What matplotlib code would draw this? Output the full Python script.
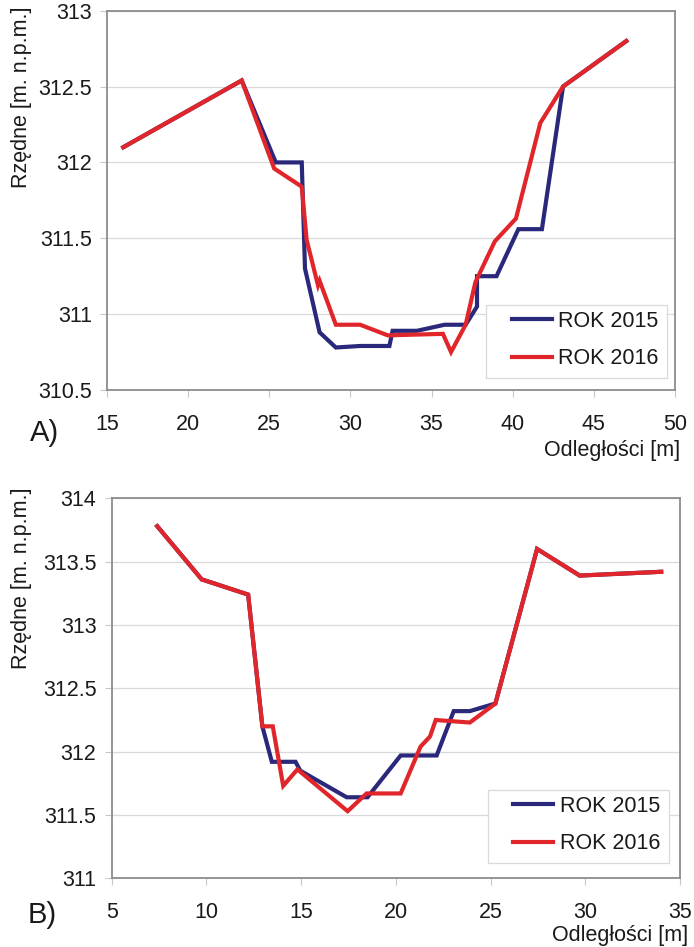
import matplotlib
matplotlib.use("Agg")
import matplotlib.pyplot as plt
from matplotlib.patches import Rectangle

plt.rcParams['font.family'] = ['Liberation Sans', 'DejaVu Sans']

# panel A
a_x_2015 = [16.0, 23.3, 25.4, 27.0, 27.2, 28.1, 29.1, 30.6, 32.4, 32.6, 34.1, 35.8, 37.1, 37.8, 37.8, 39.0, 40.35, 41.8, 43.1, 47.0]
a_y_2015 = [312.1, 312.54, 312.0, 312.0, 311.3, 310.88, 310.78, 310.79, 310.79, 310.89, 310.89, 310.93, 310.93, 311.05, 311.25, 311.25, 311.56, 311.56, 312.5, 312.8]
a_x_2016 = [16.0, 23.3, 25.3, 27.0, 27.3, 28.0, 28.1, 29.1, 30.6, 32.3, 35.7, 36.2, 37.1, 37.7, 38.9, 40.2, 41.7, 43.1, 47.0]
a_y_2016 = [312.1, 312.54, 311.96, 311.84, 311.49, 311.19, 311.22, 310.93, 310.93, 310.86, 310.87, 310.75, 310.93, 311.21, 311.48, 311.63, 312.26, 312.5, 312.8]

# panel B
b_x_2015 = [7.4, 9.75, 12.2, 12.95, 13.45, 14.7, 14.95, 17.4, 18.5, 20.25, 22.15, 23.05, 23.9, 25.25, 27.45, 29.7, 34.0]
b_y_2015 = [313.78, 313.36, 313.24, 312.2, 311.92, 311.92, 311.85, 311.64, 311.64, 311.97, 311.97, 312.32, 312.32, 312.38, 313.6, 313.39, 313.42]
b_x_2016 = [7.4, 9.75, 12.2, 12.95, 13.5, 14.05, 14.8, 17.45, 18.45, 20.25, 21.3, 21.8, 22.1, 23.9, 25.25, 27.45, 29.7, 34.0]
b_y_2016 = [313.78, 313.36, 313.24, 312.2, 312.2, 311.73, 311.86, 311.53, 311.67, 311.67, 312.04, 312.12, 312.25, 312.23, 312.38, 313.6, 313.39, 313.42]

labels = ["ROK 2015", "ROK 2016"]
blue = "#29287a"
red = "#e0262a"
grey = "#8a8e91"
txt = "#1a1a1a"
fs = 15.5

fig = plt.figure(figsize=(6.94, 9.47), dpi=100)

def panel(rect, xs1, ys1, xs2, ys2, xlim, xticks, ylim, yticks, ylabels, tag,
          frame_box, leg_anchor, ylab_top, xlab_pos, tag_pos):
    ax = fig.add_axes(rect)
    ax.plot(xs1, ys1, color=blue, lw=3.0, label=labels[0], solid_joinstyle='miter')
    ax.plot(xs2, ys2, color=red, lw=3.0, label=labels[1], solid_joinstyle='miter')
    ax.set_xlim(*xlim)
    ax.set_ylim(*ylim)
    ax.set_xticks(xticks)
    ax.set_yticks(yticks)
    ax.set_yticklabels(ylabels)
    ax.grid(axis='y', color='#d9d9d9', lw=0.9)
    ax.set_axisbelow(True)
    for s in ax.spines.values():
        s.set_color(grey)
        s.set_linewidth(1.3)
    ax.tick_params(direction='out', length=5, width=0.8, color='#c8c8c8',
                   labelsize=fs, pad=6, labelcolor=txt)
    ax.tick_params(axis='x', pad=12)

    # legend frame drawn by hand, entries placed inside it
    ax.add_patch(Rectangle(frame_box[:2], frame_box[2], frame_box[3], transform=ax.transAxes,
                           facecolor='white', edgecolor='#d9d9d9', lw=0.9, zorder=5))
    leg = ax.legend(loc='upper left', bbox_to_anchor=leg_anchor, frameon=False,
                    fontsize=fs, handlelength=1.85, handletextpad=0.3,
                    borderpad=0, borderaxespad=0, labelspacing=0.76)
    leg.set_zorder(6)
    for t in leg.get_texts():
        t.set_color(txt)

    fig.text(0.016, ylab_top, "Rzędne [m. n.p.m.]", rotation=90, va='top', ha='left',
             fontsize=fs, color=txt)
    fig.text(xlab_pos[0], xlab_pos[1], "Odległości [m]", ha='right', va='top',
             fontsize=fs, color=txt)
    fig.text(tag_pos[0], tag_pos[1], tag, ha='left', va='center', fontsize=21, color=txt)
    return ax

panel([0.1542, 0.5882, 0.8184, 0.4005], a_x_2015, a_y_2015, a_x_2016, a_y_2016,
      (15, 50), [15, 20, 25, 30, 35, 40, 45, 50], (310.5, 313),
      [310.5, 311, 311.5, 312, 312.5, 313],
      ["310.5", "311", "311.5", "312", "312.5", "313"], "A)",
      (0.667, 0.0316, 0.319, 0.1925), (0.713, 0.2085),
      0.993, (0.98, 0.5354), (0.043, 0.5428))

panel([0.161, 0.0725, 0.819, 0.4013], b_x_2015, b_y_2015, b_x_2016, b_y_2016,
      (5, 35), [5, 10, 15, 20, 25, 30, 35], (311, 314),
      [311, 311.5, 312, 312.5, 313, 313.5, 314],
      ["311", "311.5", "312", "312.5", "313", "313.5", "314"], "B)",
      (0.662, 0.040, 0.3185, 0.192), (0.7067, 0.217),
      0.485, (0.991, 0.0232), (0.040, 0.0338))

fig.savefig("out.png", dpi=100)
